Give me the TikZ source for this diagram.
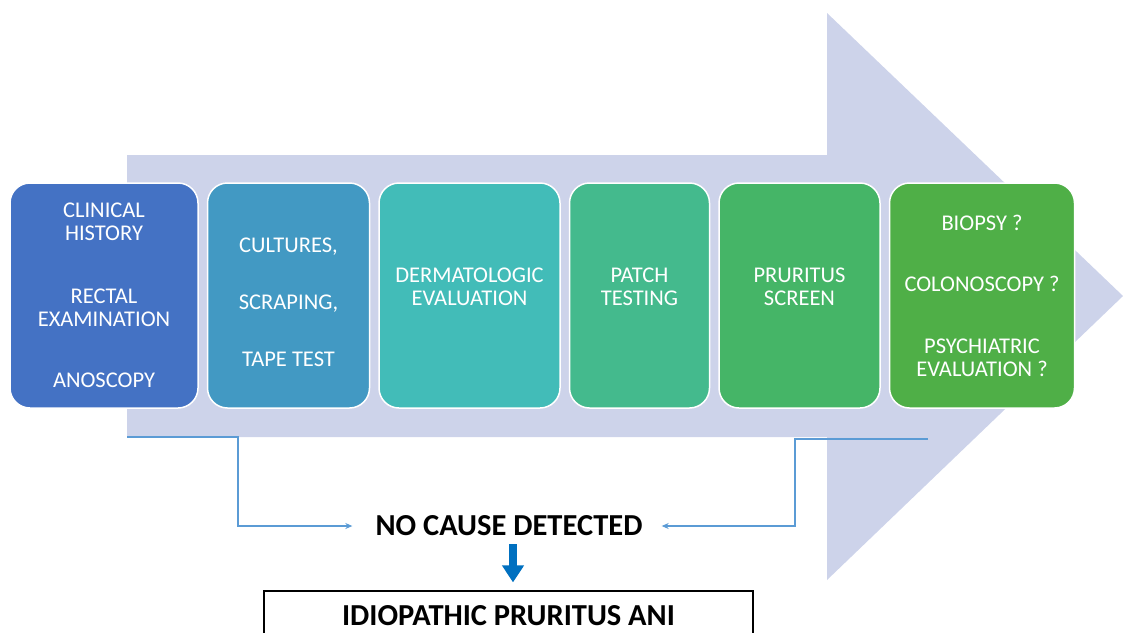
\documentclass[tikz,border=0pt]{standalone}
\usepackage{fontspec}
\setmainfont{Carlito}
\usepackage{tikz}
\usetikzlibrary{positioning,arrows.meta}
\definecolor{shaftcol}{HTML}{CDD3EA}
\definecolor{feedcol}{HTML}{5B9BD5}
\definecolor{downcol}{HTML}{0070C0}
\definecolor{c1}{HTML}{4472C4}
\definecolor{c2}{HTML}{4299C3}
\definecolor{c3}{HTML}{42BCB8}
\definecolor{c4}{HTML}{44BA8D}
\definecolor{c5}{HTML}{45B567}
\definecolor{c6}{HTML}{4FAF47}

\begin{document}
\begin{tikzpicture}[x=1pt, y=-1pt, node distance=8pt,
    stepbox/.style={draw=white, line width=1.5pt, rounded corners=20pt, minimum height=225pt,
      inner sep=0pt, align=center, text=white, font=\fontsize{22.5}{23}\selectfont},
    feed/.style={draw=feedcol, line width=1.5pt, -{Stealth[length=7pt,width=6pt]}},
    bigtext/.style={font=\fontsize{30.5}{32}\selectfont\bfseries}]
          \useasboundingbox (0,0) rectangle (1123,632);
          \clip (0,0) rectangle (1123,632);
          \fill[shaftcol] (127,155) -- (827,155) -- (827,13) -- (1123,296) -- (827,580) -- (827,437) -- (127,437) -- cycle;

          \node[stepbox, fill=c1, minimum width=188pt] (s1) at (104,295.5) {CLINICAL\\HISTORY\\[40pt]RECTAL\\EXAMINATION\\[38pt]ANOSCOPY};
          \node[stepbox, fill=c2, minimum width=162pt, right = of s1] (s2) {\mbox{}\\[6pt]CULTURES,\\[34pt]SCRAPING,\\[34pt]TAPE TEST};
          \node[stepbox, fill=c3, minimum width=181pt, right = of s2] (s3) {DERMATOLOGIC\\EVALUATION\\[-5pt]\mbox{}};
          \node[stepbox, fill=c4, minimum width=140pt, right = of s3] (s4) {PATCH\\TESTING\\[-5pt]\mbox{}};
          \node[stepbox, fill=c5, minimum width=161pt, right = of s4] (s5) {PRURITUS\\SCREEN\\[-5pt]\mbox{}};
          \node[stepbox, fill=c6, minimum width=185pt, right = of s5] (s6) {BIOPSY ?\\[38pt]COLONOSCOPY ?\\[39pt]PSYCHIATRIC\\EVALUATION ?};

          \coordinate (lfoot) at (127,437);
          \coordinate (rfoot) at (928,439);
          \node[bigtext, inner sep=4pt] (nocause) at (509,526) {NO CAUSE DETECTED};
          \node[bigtext, draw=black, line width=1.2pt, minimum width=489pt, minimum height=50pt] (idio) at (508.5,616) {IDIOPATHIC PRURITUS ANI};

          \draw[feed, shorten >=19pt] (lfoot) -- (238,437) |- (nocause.west);
          \draw[feed, shorten >=15pt] (rfoot) -- (795,439) |- (nocause.east);
          \draw[draw=downcol, line width=8pt, -{Triangle[length=17pt,width=21pt]}, shorten <=4pt, shorten >=8pt]
            ([xshift=4pt]nocause.south) -- ([xshift=4pt]nocause.south |- idio.north);
        \end{tikzpicture}
\end{document}
